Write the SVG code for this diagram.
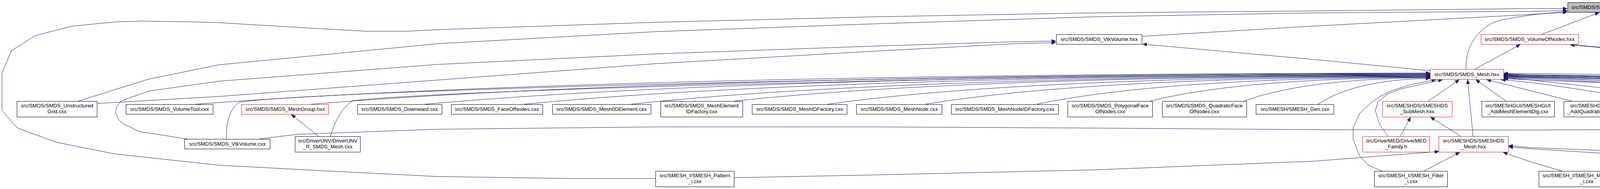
<svg xmlns="http://www.w3.org/2000/svg" width="6665" height="484" viewBox="0 0 6665 484">
<style>
.n rect{fill:#fff;stroke:#000;stroke-width:1}
.n.r rect{stroke:#f00}
.n.g rect{fill:#bfbfbf}
.n text{font-family:"Liberation Sans",Arial,Helvetica,sans-serif;font-size:13.3px;text-anchor:middle;fill:#000}
#edges path{fill:none;stroke:#191970;stroke-width:1;stroke-linejoin:round;marker-end:url(#ah)}
</style>
<defs>
<marker id="ah" viewBox="0 0 11 9" refX="11" refY="4.5" markerWidth="11" markerHeight="9" markerUnits="userSpaceOnUse" orient="auto"><path d="M0,0L11,4.5L0,9z" fill="#191970" stroke="#191970" stroke-width="0.5"/></marker>
</defs>
<rect width="6665" height="484" fill="#fff"/>
<g id="edges">
<path d="M1678,457 L1449,457 L1120,452 L840,438 L560,423 L293,394 L143,364 L43,327 L5,282 L5,188 L29,130 L91,91 L184,67 L296,56 L368,54 L486,56 L560,58 L760,70 L938,80 L1042,80 L1120,76 L1680,57 L2240,43 L2800,33 L3360,28 L3920,22 L4012,22"/>
<path d="M200,259 L379,203 L560,166 L1120,112 L1680,81 L2240,61 L2800,43 L3360,33 L3920,29 L4012,27"/>
<path d="M248,265 L560,247 L1120,205 L1680,163 L2240,131 L2597,112 L2703,109"/>
<path d="M480,356 L357,337 L318,318 L304,307 L296,290 L298,275 L311,258 L382,233 L560,208 L1120,165 L1680,138 L2240,118 L2597,107 L2703,105"/>
<path d="M2923,93 L3360,67 L3920,37 L4012,31"/>
<path d="M3661,181 L3360,152 L2925,113"/>
<path d="M3753,177 C3752,130 3770,85 3824,57 C3860,45 3950,33 4012,30"/>
<path d="M3776,177 L3892,114"/>
<path d="M3947,88 L4094,32"/>
<path d="M4259,88 L4155,32"/>
<path d="M4488,88 L4196,32"/>
<path d="M4716,88 C4620,66 4450,40 4244,27"/>
<path d="M4909,82 L4480,57 L4244,32"/>
<path d="M5161,82 L5040,68 L4480,29 L4244,22"/>
<path d="M5351,82 L5040,52 L4480,23 L4244,18"/>
<path d="M6304,183 L6160,175 L5600,164 L5040,157 L4480,143 L4154,122 L4134,95 L4128,32"/>
<path d="M5777,185 L5600,180 L5040,164 L4480,147 L4134,124 L4106,119 L4100,80 L4114,32"/>
<path d="M6510,267 L6160,236 L5600,205 L5040,175 L4480,150 L4109,122 L4020,114"/>
<path d="M6250,267 L6160,257 L5600,233 L5040,200 L4480,153 L4109,123 L4020,115"/>
<path d="M6530,267 L6160,221 L6009,205"/>
<path d="M6548,267 L6456,205"/>
<path d="M6515,267 C5715,227.5 4649,194 3849,188"/>
<path d="M500,267 C1290,207 2555,188 3661,187"/>
<path d="M580,356 C578,318 586,282 612,262 C800,232 2400,190 3661,188"/>
<path d="M796,267 C1512,208 2658,189 3661,189"/>
<path d="M846,349 C855,318 870,280 903,258 C1100,232 2500,192 3661,190"/>
<path d="M815,349 L746,293"/>
<path d="M1087,267 C1731,209 2760,191 3661,191"/>
<path d="M1341,267 C1921,210 2849,193 3661,192"/>
<path d="M1615,267 C2127,211 2945,194 3661,193"/>
<path d="M1880,259 C2325,210 3038,195 3661,194"/>
<path d="M2119,267 C2505,212 3121,196 3661,195"/>
<path d="M2369,267 C2692,213 3209,197 3661,196"/>
<path d="M2654,267 C2906,214 3309,198 3661,197"/>
<path d="M2945,259 C3124,213 3410,199 3661,198"/>
<path d="M3185,259 C3304,214 3494,200 3661,199"/>
<path d="M3374,267 C3446,218 3561,202 3661,201"/>
<path d="M3656,259 L3736,204"/>
<path d="M3771,349 L3757,204"/>
<path d="M3740,349 L3662,300"/>
<path d="M3585,349 L3611,300"/>
<path d="M3553,349 L3531,317 L3521,283 L3528,260 L3553,240 L3589,227 L3693,204"/>
<path d="M3537,438 L3503,423 L3481,400 L3464,357 L3464,327 L3481,290 L3510,263 L3531,248 L3560,233 L3610,217 L3676,204"/>
<path d="M3646,438 L3737,390"/>
<path d="M1879,455 L2240,448 L2800,435 L3360,413 L3684,388"/>
<path d="M3999,438 L3920,415 L3848,390"/>
<path d="M5022,452 L4480,416 L3920,381 L3862,376"/>
<path d="M5765,452 L5600,447 L5040,423 L4480,401 L3920,378 L3862,373"/>
<path d="M3856,259 L3778,204"/>
<path d="M4024,259 L3806,204"/>
<path d="M4230,259 C4100,238 3950,212 3843,204"/>
<path d="M4640,259 C4403,229.5 4086,205 3849,200"/>
<path d="M4760,259 C4487,228.5 4122,203 3849,198"/>
<path d="M4920,259 C4599,228 4170,202 3849,197"/>
<path d="M5240,259 C4823,227.5 4266,201 3849,196"/>
<path d="M5326,267 C4883,231 4292,201 3849,195"/>
<path d="M5645,259 C5106,225.5 4388,197 3849,192"/>
<path d="M5880,267 C5500,222 4458,197 3849,191"/>
<path d="M4889,362 L4787,335 L4600,312 L4480,302 L4454,284 L4436,266 L4412,257 L4200,236 L3920,205 L3849,199"/>
<path d="M5304,356 L5430,326 L5522,300 L5531,278 L5522,259 L5486,248 L5040,228 L4480,212 L3920,196 L3849,194"/>
<path d="M5163,452 L5361,435 L5576,398 L5597,377 L5605,343 L5600,313 L5576,280 L5544,258 L5486,249 L5040,228 L4480,210 L3920,195 L3849,193"/>
<path d="M5577,363 L5900,330 L6064,312 L6086,300 L6095,278 L6086,260 L6071,256 L5600,237 L5040,222 L4480,207 L3920,193 L3849,190"/>
<path d="M5909,445 L6029,393 L6096,350 L6114,327 L6124,297 L6123,282 L6109,260 L6086,256 L5600,234 L5040,220 L4480,205 L3920,192 L3849,189"/>
<path d="M4184,445 L4480,410 L4516,400 L4790,340 L4837,313 L4855,287 L4844,260 L4819,249 L4480,232 L4200,215 L3920,205 L3849,201"/>
<path d="M664,356 L760,344 L1120,331 L1680,325 L2240,325 L2800,328 L3360,332 L3920,333 L4480,330 L5040,312 L5318,293"/>
<path d="M5047,356 L5330,293"/>
<path d="M5254,356 L5365,293"/>
<path d="M5461,356 L5410,293"/>
</g>
<g id="n_root" class="n g"><rect x="4013.5" y="6.5" width="230" height="25"/><text x="4128" y="23">src/SMDS/SMDS_MeshVolume.hxx</text></g>
<g id="n_vtkvolhxx" class="n"><rect x="2704.5" y="88.5" width="219" height="25"/><text x="2814" y="105">src/SMDS/SMDS_VtkVolume.hxx</text></g>
<g id="n_vonhxx" class="n r"><rect x="3791.5" y="88.5" width="250" height="25"/><text x="3916" y="105">src/SMDS/SMDS_VolumeOfNodes.hxx</text></g>
<g id="n_meshelemcxx" class="n"><rect x="4165.5" y="88.5" width="236" height="25"/><text x="4283" y="105">src/SMDS/SMDS_MeshElement.cxx</text></g>
<g id="n_meshvolcxx" class="n"><rect x="4425.5" y="88.5" width="230" height="25"/><text x="4540" y="105">src/SMDS/SMDS_MeshVolume.cxx</text></g>
<g id="n_smeshmeshcxx" class="n"><rect x="4679.5" y="88.5" width="207" height="25"/><text x="4783" y="105">src/SMESH/SMESH_Mesh.cxx</text></g>
<g id="n_meshedit" class="n"><rect x="4910.5" y="82.5" width="225" height="39"/><text x="5023" y="98">src/SMESH_I/SMESH_MeshEditor</text><text x="5023" y="113">_i.cxx</text></g>
<g id="n_block" class="n"><rect x="5160.5" y="82.5" width="168" height="39"/><text x="5244" y="98">src/SMESHUtils/SMESH</text><text x="5244" y="113">_Block.cxx</text></g>
<g id="n_demerge" class="n"><rect x="5352.5" y="82.5" width="168" height="39"/><text x="5436" y="98">src/SMESHUtils/SMESH</text><text x="5436" y="113">_DeMerge.cxx</text></g>
<g id="n_smdsmeshhxx" class="n r"><rect x="3661.5" y="177.5" width="188" height="26"/><text x="3755" y="195">src/SMDS/SMDS_Mesh.hxx</text></g>
<g id="n_qvon" class="n r"><rect x="5777.5" y="170.5" width="230" height="40"/><text x="5892" y="186">src/SMDS/SMDS_QuadraticVolume</text><text x="5892" y="201">OfNodes.hxx</text></g>
<g id="n_vof" class="n r"><rect x="6304.5" y="177.5" width="248" height="26"/><text x="6428" y="195">src/SMDS/SMDS_VolumeOfFaces.hxx</text></g>
<g id="n_ug" class="n"><rect x="43.5" y="259.5" width="205" height="40"/><text x="146" y="275">src/SMDS/SMDS_Unstructured</text><text x="146" y="290">Grid.cxx</text></g>
<g id="n_voltool" class="n"><rect x="322.5" y="267.5" width="223" height="25"/><text x="434" y="284">src/SMDS/SMDS_VolumeTool.cxx</text></g>
<g id="n_meshgroup" class="n r"><rect x="618.5" y="267.5" width="223" height="25"/><text x="730" y="284">src/SMDS/SMDS_MeshGroup.hxx</text></g>
<g id="n_downward" class="n"><rect x="915.5" y="267.5" width="216" height="25"/><text x="1023" y="284">src/SMDS/SMDS_Downward.cxx</text></g>
<g id="n_faceofnodes" class="n"><rect x="1155.5" y="267.5" width="234" height="25"/><text x="1272" y="284">src/SMDS/SMDS_FaceOfNodes.cxx</text></g>
<g id="n_mesh0d" class="n"><rect x="1414.5" y="267.5" width="252" height="25"/><text x="1540" y="284">src/SMDS/SMDS_Mesh0DElement.cxx</text></g>
<g id="n_meidf" class="n"><rect x="1691.5" y="259.5" width="210" height="40"/><text x="1796" y="275">src/SMDS/SMDS_MeshElement</text><text x="1796" y="290">IDFactory.cxx</text></g>
<g id="n_meshidf" class="n"><rect x="1925.5" y="267.5" width="243" height="25"/><text x="2047" y="284">src/SMDS/SMDS_MeshIDFactory.cxx</text></g>
<g id="n_meshnode" class="n"><rect x="2192.5" y="267.5" width="219" height="25"/><text x="2302" y="284">src/SMDS/SMDS_MeshNode.cxx</text></g>
<g id="n_meshnodeidf" class="n"><rect x="2435.5" y="267.5" width="274" height="25"/><text x="2572" y="284">src/SMDS/SMDS_MeshNodeIDFactory.cxx</text></g>
<g id="n_polyface" class="n"><rect x="2733.5" y="259.5" width="217" height="40"/><text x="2842" y="275">src/SMDS/SMDS_PolygonalFace</text><text x="2842" y="290">OfNodes.cxx</text></g>
<g id="n_quadface" class="n"><rect x="2975.5" y="259.5" width="216" height="40"/><text x="3083" y="275">src/SMDS/SMDS_QuadraticFace</text><text x="3083" y="290">OfNodes.cxx</text></g>
<g id="n_gen" class="n"><rect x="3215.5" y="267.5" width="199" height="25"/><text x="3315" y="284">src/SMESH/SMESH_Gen.cxx</text></g>
<g id="n_submesh" class="n r"><rect x="3539.5" y="259.5" width="178" height="40"/><text x="3628" y="275">src/SMESHDS/SMESHDS</text><text x="3628" y="290">_SubMesh.hxx</text></g>
<g id="n_addmesh" class="n"><rect x="3793.5" y="259.5" width="186" height="40"/><text x="3886" y="275">src/SMESHGUI/SMESHGUI</text><text x="3886" y="290">_AddMeshElementDlg.cxx</text></g>
<g id="n_addquad" class="n"><rect x="4003.5" y="259.5" width="200" height="40"/><text x="4103" y="275">src/SMESHGUI/SMESHGUI</text><text x="4103" y="290">_AddQuadraticElementDlg.cxx</text></g>
<g id="n_compute" class="n"><rect x="4228.5" y="259.5" width="185" height="40"/><text x="4321" y="275">src/SMESHGUI/SMESHGUI</text><text x="4321" y="290">_ComputeDlg.cxx</text></g>
<g id="n_datr" class="n"><rect x="4488.5" y="259.5" width="160" height="40"/><text x="4568" y="275">src/DriverDAT/DriverDAT</text><text x="4568" y="290">_R_SMDS_Mesh.cxx</text></g>
<g id="n_datw" class="n"><rect x="4673.5" y="259.5" width="159" height="40"/><text x="4753" y="275">src/DriverDAT/DriverDAT</text><text x="4753" y="290">_W_SMDS_Mesh.cxx</text></g>
<g id="n_stlr" class="n"><rect x="4907.5" y="259.5" width="159" height="40"/><text x="4987" y="275">src/DriverSTL/DriverSTL</text><text x="4987" y="290">_R_SMDS_Mesh.cxx</text></g>
<g id="n_stlw" class="n"><rect x="5090.5" y="259.5" width="159" height="40"/><text x="5170" y="275">src/DriverSTL/DriverSTL</text><text x="5170" y="290">_W_SMDS_Mesh.cxx</text></g>
<g id="n_vtkcellit" class="n r"><rect x="5273.5" y="267.5" width="238" height="25"/><text x="5392" y="284">src/SMDS/SMDS_VtkCellIterator.hxx</text></g>
<g id="n_unvw" class="n"><rect x="5638.5" y="259.5" width="165" height="40"/><text x="5721" y="275">src/DriverUNV/DriverUNV</text><text x="5721" y="290">_W_SMDS_Mesh.cxx</text></g>
<g id="n_device" class="n"><rect x="5828.5" y="267.5" width="245" height="25"/><text x="5951" y="284">src/OBJECT/SMESH_DeviceActor.cxx</text></g>
<g id="n_voncxx" class="n"><rect x="6198.5" y="267.5" width="249" height="25"/><text x="6323" y="284">src/SMDS/SMDS_VolumeOfNodes.cxx</text></g>
<g id="n_meshcxx" class="n"><rect x="6471.5" y="267.5" width="188" height="25"/><text x="6565" y="284">src/SMDS/SMDS_Mesh.cxx</text></g>
<g id="n_vtkvolcxx" class="n"><rect x="472.5" y="356.5" width="219" height="25"/><text x="582" y="373">src/SMDS/SMDS_VtkVolume.cxx</text></g>
<g id="n_unvr" class="n"><rect x="755.5" y="349.5" width="167" height="40"/><text x="839" y="365">src/DriverUNV/DriverUNV</text><text x="839" y="380">_R_SMDS_Mesh.cxx</text></g>
<g id="n_medfamily" class="n r"><rect x="3488.5" y="349.5" width="171" height="40"/><text x="3574" y="365">src/DriverMED/DriverMED</text><text x="3574" y="380">_Family.h</text></g>
<g id="n_smeshdsmesh" class="n r"><rect x="3683.5" y="349.5" width="178" height="40"/><text x="3772" y="365">src/SMESHDS/SMESHDS</text><text x="3772" y="380">_Mesh.hxx</text></g>
<g id="n_vtkface" class="n"><rect x="4889.5" y="356.5" width="206" height="25"/><text x="4992" y="373">src/SMDS/SMDS_VtkFace.cxx</text></g>
<g id="n_ball" class="n"><rect x="5119.5" y="356.5" width="226" height="25"/><text x="5232" y="373">src/SMDS/SMDS_BallElement.cxx</text></g>
<g id="n_vtkedge" class="n"><rect x="5370.5" y="356.5" width="207" height="25"/><text x="5474" y="373">src/SMDS/SMDS_VtkEdge.cxx</text></g>
<g id="n_pattern" class="n"><rect x="1678.5" y="438.5" width="201" height="40"/><text x="1779" y="454">src/SMESH_I/SMESH_Pattern</text><text x="1779" y="469">_i.cxx</text></g>
<g id="n_filter" class="n"><rect x="3518.5" y="438.5" width="187" height="40"/><text x="3612" y="454">src/SMESH_I/SMESH_Filter</text><text x="3612" y="469">_i.cxx</text></g>
<g id="n_measure" class="n"><rect x="3939.5" y="438.5" width="245" height="40"/><text x="4062" y="454">src/SMESH_I/SMESH_Measurements</text><text x="4062" y="469">_i.cxx</text></g>
<g id="n_controls" class="n"><rect x="5022.5" y="438.5" width="141" height="40"/><text x="5093" y="454">src/Controls/SMESH</text><text x="5093" y="469">_Controls.cxx</text></g>
<g id="n_object" class="n"><rect x="5765.5" y="445.5" width="214" height="26"/><text x="5872" y="463">src/OBJECT/SMESH_Object.cxx</text></g>
</svg>
